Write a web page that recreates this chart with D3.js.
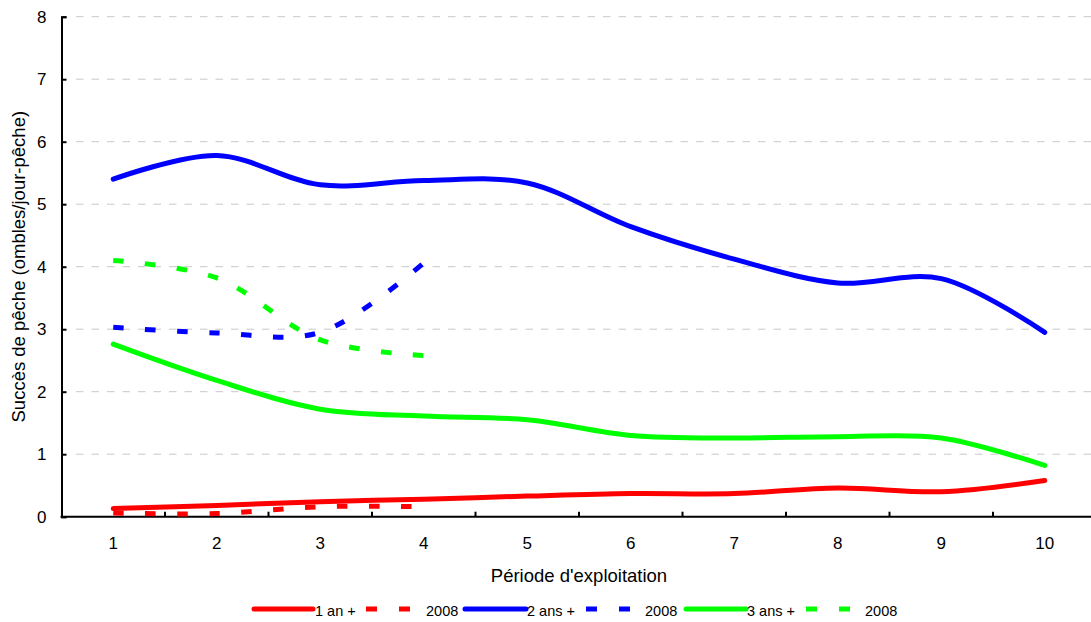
<!DOCTYPE html>
<html>
<head>
<meta charset="utf-8">
<script src="https://cdn.jsdelivr.net/npm/d3@7"></script>
<style>
  html, body { margin: 0; padding: 0; background: #fff; }
  svg { display: block; font-family: "Liberation Sans", Arial, Helvetica, sans-serif; }
</style>
</head>
<body>
<svg id="chart" width="1091" height="622"></svg>
<script>
// Périodes d'exploitation (axe X)
const categories = [1, 2, 3, 4, 5, 6, 7, 8, 9, 10];

// Succès de pêche moyen par classe d'âge (ombles/jour-pêche)
const an1 = [0.13, 0.18, 0.24, 0.28, 0.33, 0.37, 0.37, 0.46, 0.40, 0.58];
const ans2 = [5.40, 5.78, 5.31, 5.38, 5.34, 4.64, 4.12, 3.74, 3.81, 2.95];
const ans3 = [2.76, 2.18, 1.72, 1.61, 1.55, 1.30, 1.26, 1.28, 1.26, 0.82];

// Campagne 2008 (périodes 1 à 4)
const an1_2008 = [0.06, 0.05, 0.16, 0.16];
const ans2_2008 = [3.03, 2.94, 2.95, 4.06];
const ans3_2008 = [4.10, 3.82, 2.83, 2.58];

// Graduations de l'axe Y
const yTicks = [0, 1, 2, 3, 4, 5, 6, 7, 8];

const seriesList = [
  { name: "1 an +", values: an1, color: "#ff0000", dashed: false },
  { name: "2008", values: an1_2008, color: "#ff0000", dashed: true },
  { name: "2 ans +", values: ans2, color: "#0000ff", dashed: false },
  { name: "2008", values: ans2_2008, color: "#0000ff", dashed: true },
  { name: "3 ans +", values: ans3, color: "#00ff00", dashed: false },
  { name: "2008", values: ans3_2008, color: "#00ff00", dashed: true }
];

const svg = d3.select("#chart");
const plotLeft = 61.5, plotRight = 1096.5, plotTop = 16.7, plotBottom = 516.7;

const x = d3.scaleBand().domain(categories).range([plotLeft, plotRight]);
const xc = d => x(d) + x.bandwidth() / 2;
const y = d3.scaleLinear().domain([0, 8]).range([plotBottom, plotTop]);

// Quadrillage horizontal
svg.append("g")
  .selectAll("line")
  .data(yTicks.filter(t => t > 0))
  .join("line")
  .attr("x1", 76).attr("x2", 1091)
  .attr("y1", d => y(d)).attr("y2", d => y(d))
  .attr("stroke", "#c8c8c8")
  .attr("stroke-width", 1)
  .attr("stroke-dasharray", "7.5,8");

// Axe Y
const yAxis = svg.append("g")
  .attr("transform", `translate(${plotLeft},0)`)
  .call(d3.axisLeft(y).tickValues(yTicks).tickSize(-5).tickPadding(15).tickFormat(d3.format("d")));
yAxis.select(".domain").attr("stroke", "#000").attr("stroke-width", 2);
yAxis.selectAll(".tick line").attr("stroke", "#000").attr("stroke-width", 2);
yAxis.selectAll("text").attr("font-size", 17).attr("fill", "#000")
  .attr("font-family", "Liberation Sans, Arial, sans-serif");

// Axe X : étiquettes centrées sur les périodes
const xAxis = svg.append("g")
  .attr("transform", `translate(0,${plotBottom})`)
  .call(d3.axisBottom(x).tickSize(0).tickPadding(20));
xAxis.select(".domain").remove();
xAxis.selectAll("text").attr("font-size", 17).attr("fill", "#000")
  .attr("font-family", "Liberation Sans, Arial, sans-serif");

// Ligne de l'axe X et graduations entre les périodes
svg.append("line")
  .attr("x1", plotLeft - 1).attr("x2", plotRight)
  .attr("y1", plotBottom).attr("y2", plotBottom)
  .attr("stroke", "#000").attr("stroke-width", 2);
svg.append("g")
  .selectAll("line")
  .data(categories.slice(1))
  .join("line")
  .attr("x1", d => x(d)).attr("x2", d => x(d))
  .attr("y1", plotBottom).attr("y2", plotBottom - 5)
  .attr("stroke", "#000").attr("stroke-width", 2);

// Courbes lissées
const line = d3.line()
  .x((d, i) => xc(categories[i]))
  .y(d => y(d))
  .curve(d3.curveCatmullRom.alpha(0.5));

svg.append("g")
  .selectAll("path")
  .data(seriesList)
  .join("path")
  .attr("d", s => line(s.values))
  .attr("fill", "none")
  .attr("stroke", s => s.color)
  .attr("stroke-width", 5)
  .attr("stroke-linecap", s => s.dashed ? "butt" : "round")
  .attr("stroke-linejoin", "round")
  .attr("stroke-dasharray", s => s.dashed ? "10.5,21.5" : null);

// Titres des axes
svg.append("text")
  .attr("x", (plotLeft + plotRight) / 2).attr("y", 582)
  .attr("text-anchor", "middle")
  .attr("font-size", 18.5)
  .text("Période d'exploitation");

svg.append("text")
  .attr("transform", `translate(25,${(plotTop + plotBottom) / 2}) rotate(-90)`)
  .attr("text-anchor", "middle")
  .attr("font-size", 18.5)
  .text("Succès de pêche (ombles/jour-pêche)");

// Légende
const legendItems = [
  { x0: 254, x1: 313, tx: 315, s: seriesList[0] },
  { x0: 366, x1: 410, tx: 426, s: seriesList[1] },
  { x0: 465, x1: 526, tx: 527, s: seriesList[2] },
  { x0: 586, x1: 630, tx: 645, s: seriesList[3] },
  { x0: 686, x1: 746, tx: 747, s: seriesList[4] },
  { x0: 806, x1: 850, tx: 865, s: seriesList[5] }
];
const legend = svg.append("g");
legend.selectAll("line")
  .data(legendItems)
  .join("line")
  .attr("x1", d => d.x0).attr("x2", d => d.x1)
  .attr("y1", 609).attr("y2", 609)
  .attr("stroke", d => d.s.color)
  .attr("stroke-width", 5)
  .attr("stroke-linecap", d => d.s.dashed ? "butt" : "round")
  .attr("stroke-dasharray", d => d.s.dashed ? "11,22" : null);
legend.selectAll("text")
  .data(legendItems)
  .join("text")
  .attr("x", d => d.tx).attr("y", 616)
  .attr("font-size", 14.5)
  .text(d => d.s.name);
</script>
</body>
</html>
